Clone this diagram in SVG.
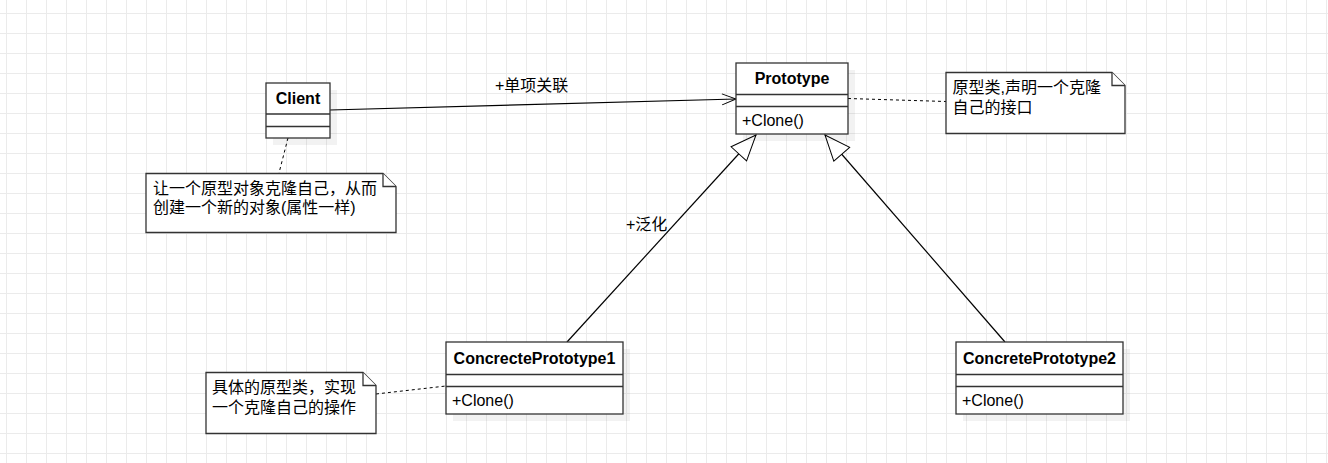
<svg xmlns="http://www.w3.org/2000/svg" width="1328" height="463" viewBox="0 0 1328 463">
<defs>
<pattern id="grid" x="6" y="13" width="20" height="20" patternUnits="userSpaceOnUse">
<path d="M0.5,0 V20 M0,0.5 H20" stroke="#ebebeb" stroke-width="1" fill="none"/>
</pattern>
<marker id="open" markerUnits="userSpaceOnUse" markerWidth="16" markerHeight="14" refX="15" refY="6.5" orient="auto" overflow="visible">
<path d="M1,1 L15,6.5 L1,12" fill="none" stroke="#000" stroke-width="1"/>
</marker>
<marker id="tri" markerUnits="userSpaceOnUse" markerWidth="28" markerHeight="24" refX="26" refY="11" orient="auto" overflow="visible">
<path d="M0.5,0.5 L26,11 L0.5,21.5 Z" fill="#fff" stroke="#000" stroke-width="1"/>
</marker>
</defs>
<style>
.box{fill:#fff;stroke:#333;stroke-width:1.3}
.sh{fill:#000;opacity:0.05}
.sep{stroke:#333;stroke-width:1.3}
.name{font-family:"Liberation Sans","Noto Sans CJK SC",sans-serif;font-size:16px;font-weight:bold;fill:#000;text-anchor:middle}
.op{font-family:"Liberation Sans","Noto Sans CJK SC",sans-serif;font-size:16px;fill:#000}
.txt{font-family:"Liberation Sans","Noto Sans CJK SC",sans-serif;font-size:16px;fill:#000}
.note{fill:#fff;stroke:#333;stroke-width:1.3}
.dash{stroke:#000;stroke-width:1;stroke-dasharray:3,3;fill:none}
.line{stroke:#000;stroke-width:1.2;fill:none}
</style>
<rect width="1328" height="463" fill="#fff"/>
<rect width="1328" height="463" fill="url(#grid)"/>

<g id="connectors">
<path class="line" d="M330,110 L736,99" marker-end="url(#open)"/>
<path class="line" d="M567,342 L756,135" marker-end="url(#tri)"/>
<path class="line" d="M1005,342 L825,135" marker-end="url(#tri)"/>
<path class="dash" d="M848,98.5 L946,101.5"/>
<path class="dash" d="M288,138 L279,173"/>
<path class="dash" d="M376,394 L446,386"/>
<text class="txt" x="495" y="91">+单项关联</text>
<text class="txt" x="626" y="230">+泛化</text>
</g>

<g id="client">
<rect class="sh" x="273" y="90" width="64" height="55"/>
<rect class="box" x="266" y="83" width="64" height="55"/>
<line class="sep" x1="266" y1="114" x2="330" y2="114"/>
<line class="sep" x1="266" y1="126.5" x2="330" y2="126.5"/>
<text class="name" x="298" y="104">Client</text>
</g>

<g id="prototype">
<rect class="sh" x="743" y="70" width="112" height="71"/>
<rect class="box" x="736" y="63" width="112" height="71"/>
<line class="sep" x1="736" y1="94.5" x2="848" y2="94.5"/>
<line class="sep" x1="736" y1="106.5" x2="848" y2="106.5"/>
<text class="name" x="792" y="84">Prototype</text>
<text class="op" x="742" y="126">+Clone()</text>
</g>

<g id="concrete1">
<rect class="sh" x="453" y="349" width="177" height="72"/>
<rect class="box" x="446" y="342" width="177" height="72"/>
<line class="sep" x1="446" y1="374.5" x2="623" y2="374.5"/>
<line class="sep" x1="446" y1="386.5" x2="623" y2="386.5"/>
<text class="name" x="534.5" y="364">ConcrectePrototype1</text>
<text class="op" x="452" y="406">+Clone()</text>
</g>

<g id="concrete2">
<rect class="sh" x="963" y="349" width="167" height="72"/>
<rect class="box" x="956" y="342" width="167" height="72"/>
<line class="sep" x1="956" y1="374.5" x2="1123" y2="374.5"/>
<line class="sep" x1="956" y1="386.5" x2="1123" y2="386.5"/>
<text class="name" x="1039.5" y="364">ConcretePrototype2</text>
<text class="op" x="962" y="406">+Clone()</text>
</g>

<g id="note-prototype">
<path class="note" d="M946,72.5 H1112 L1125,85.5 V133.5 H946 Z"/>
<path class="note" d="M1112,72.5 V85.5 H1125" fill="none"/>
<text class="txt" x="952.5" y="93">原型类,声明一个克隆</text>
<text class="txt" x="952.5" y="112.5">自己的接口</text>
</g>

<g id="note-client">
<path class="note" d="M146,173.5 H383 L396,186.5 V232.5 H146 Z"/>
<path class="note" d="M383,173.5 V186.5 H396" fill="none"/>
<text class="txt" x="153" y="193.5">让一个原型对象克隆自己，从而</text>
<text class="txt" x="153" y="212.5">创建一个新的对象(属性一样)</text>
</g>

<g id="note-concrete1">
<path class="note" d="M206,372.5 H363 L376,385.5 V433.5 H206 Z"/>
<path class="note" d="M363,372.5 V385.5 H376" fill="none"/>
<text class="txt" x="212" y="392.5">具体的原型类，实现</text>
<text class="txt" x="212" y="412.5">一个克隆自己的操作</text>
</g>
</svg>
